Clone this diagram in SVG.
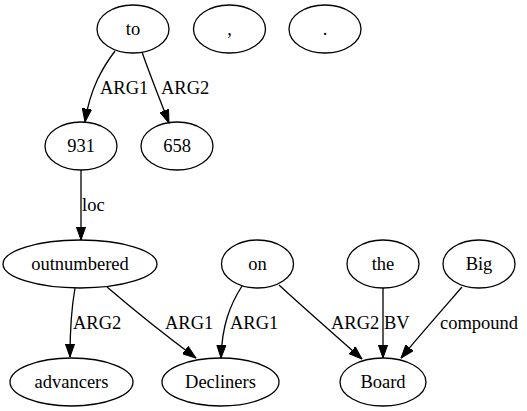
<svg xmlns="http://www.w3.org/2000/svg" width="527" height="411" viewBox="0 0 527 411" font-family="'Liberation Serif', 'DejaVu Serif', serif">
<defs>
<marker id="ah" markerWidth="14" markerHeight="10" refX="13.3" refY="5" orient="auto" markerUnits="userSpaceOnUse">
<path d="M0,0.3 L13.3,5 L0,9.7 Z" fill="#000" stroke="#000" stroke-width="1"/>
</marker>
<style>
.n ellipse{fill:none;stroke:#000;stroke-width:1.3}
text{font-family:'Liberation Serif','DejaVu Serif',serif;font-size:18.5px;fill:#000}
.n text{text-anchor:middle}
.e path{fill:none;stroke:#000;stroke-width:1.3;marker-end:url(#ah)}
</style>
</defs>
<rect width="527" height="411" fill="#fff"/>
<g id="edges" class="e">
<path d="M115,51 C103,67 90,88 85,122"/>
<text x="100" y="94">ARG1</text>
<path d="M142,52 C150,75 160,100 169,123"/>
<text x="161" y="94">ARG2</text>
<path d="M81,170 L81,240"/>
<text x="82" y="211">loc</text>
<path d="M75,288 C72,305 70,330 70,357"/>
<text x="73" y="329">ARG2</text>
<path d="M107,287 C135,311 165,335 196,358"/>
<text x="165" y="329">ARG1</text>
<path d="M242,286 C230,305 222,325 221,358"/>
<text x="230" y="329">ARG1</text>
<path d="M279,285 C305,309 335,335 362,359"/>
<text x="331" y="329">ARG2</text>
<path d="M383,288 L383,358"/>
<text x="384" y="329">BV</text>
<path d="M462,287 C442,310 420,335 401,358"/>
<text x="440" y="329">compound</text>
</g>
<g id="n-to" class="n"><ellipse cx="133" cy="29" rx="36" ry="24"/><text x="133" y="35">to</text></g>
<g id="n-comma" class="n"><ellipse cx="229.5" cy="29" rx="36" ry="24"/><text x="229.5" y="35">,</text></g>
<g id="n-period" class="n"><ellipse cx="325" cy="29" rx="36" ry="24"/><text x="325" y="35">.</text></g>
<g id="n-931" class="n"><ellipse cx="81" cy="146" rx="36" ry="24"/><text x="81" y="152">931</text></g>
<g id="n-658" class="n"><ellipse cx="177" cy="146" rx="36" ry="24"/><text x="177" y="152">658</text></g>
<g id="n-outnumbered" class="n"><ellipse cx="80" cy="264" rx="77" ry="24"/><text x="80" y="270">outnumbered</text></g>
<g id="n-on" class="n"><ellipse cx="257.5" cy="264" rx="36" ry="24"/><text x="257.5" y="270">on</text></g>
<g id="n-the" class="n"><ellipse cx="383" cy="264" rx="36" ry="24"/><text x="383" y="270">the</text></g>
<g id="n-Big" class="n"><ellipse cx="479" cy="264" rx="36" ry="24"/><text x="479" y="270">Big</text></g>
<g id="n-advancers" class="n"><ellipse cx="71.5" cy="382" rx="61.5" ry="24"/><text x="71.5" y="388">advancers</text></g>
<g id="n-Decliners" class="n"><ellipse cx="220.5" cy="382" rx="58.5" ry="24"/><text x="220.5" y="388">Decliners</text></g>
<g id="n-Board" class="n"><ellipse cx="383" cy="382" rx="43" ry="24"/><text x="383" y="388">Board</text></g>
</svg>
